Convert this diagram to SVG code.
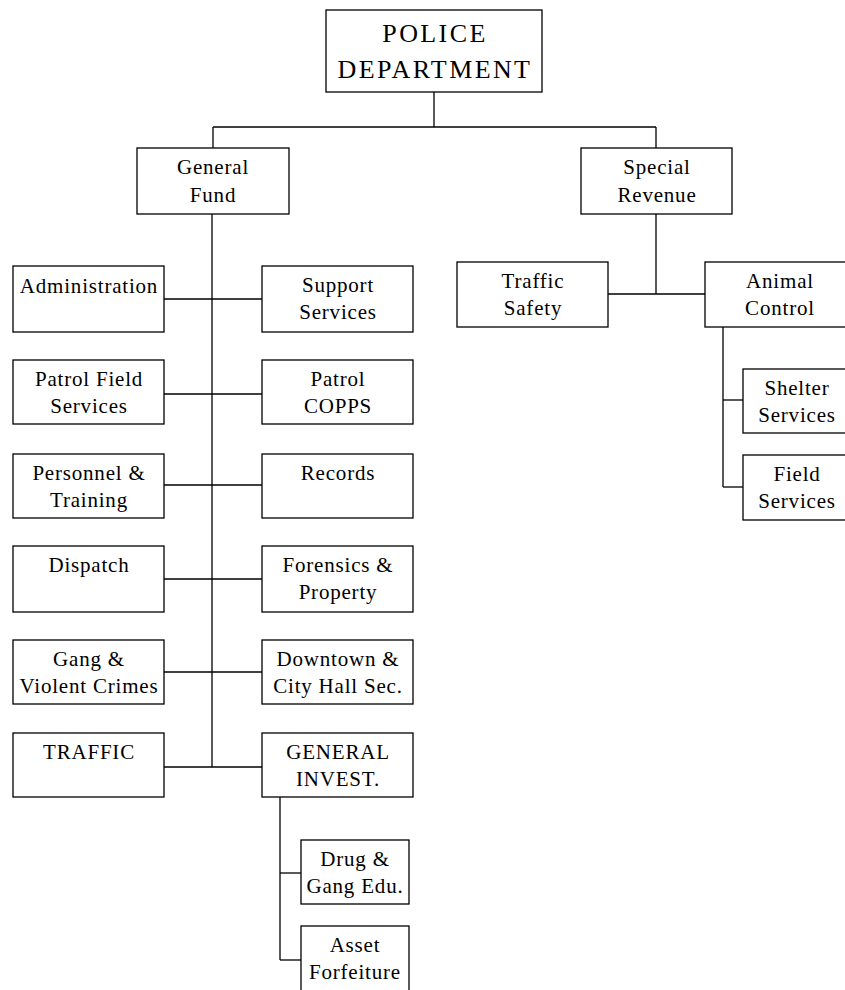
<svg xmlns="http://www.w3.org/2000/svg" width="845" height="990" viewBox="0 0 845 990">
<style>
rect{fill:#fff;stroke:#000;stroke-width:1.3}
text{font-family:"Liberation Serif","Times New Roman",serif;font-size:21px;letter-spacing:0.8px;text-anchor:middle;fill:#000}
.big{font-size:26px;letter-spacing:2.4px}
#connectors line{stroke:#000;stroke-width:1.3}
</style>
<g id="connectors">
<line x1="434" y1="92" x2="434" y2="127"/>
<line x1="213" y1="127" x2="656" y2="127"/>
<line x1="213" y1="127" x2="213" y2="148"/>
<line x1="656" y1="127" x2="656" y2="148"/>
<line x1="212" y1="214" x2="212" y2="767"/>
<line x1="164" y1="299" x2="262" y2="299"/>
<line x1="164" y1="394" x2="262" y2="394"/>
<line x1="164" y1="485" x2="262" y2="485"/>
<line x1="164" y1="579" x2="262" y2="579"/>
<line x1="164" y1="672" x2="262" y2="672"/>
<line x1="164" y1="767" x2="262" y2="767"/>
<line x1="280" y1="797" x2="280" y2="960"/>
<line x1="280" y1="873" x2="301" y2="873"/>
<line x1="280" y1="960" x2="301" y2="960"/>
<line x1="656" y1="214" x2="656" y2="294"/>
<line x1="608" y1="294" x2="705" y2="294"/>
<line x1="723" y1="327" x2="723" y2="487"/>
<line x1="723" y1="400" x2="743" y2="400"/>
<line x1="723" y1="487" x2="743" y2="487"/>
</g>
<g id="police"><rect x="326" y="10" width="216" height="82"/><text class="big" x="435" y="42">POLICE</text><text class="big" x="435" y="78">DEPARTMENT</text></g>
<g id="general-fund"><rect x="137" y="148" width="152" height="66"/><text x="213" y="174">General</text><text x="213" y="202">Fund</text></g>
<g id="special-revenue"><rect x="581" y="148" width="151" height="66"/><text x="657" y="174">Special</text><text x="657" y="202">Revenue</text></g>
<g id="administration"><rect x="13" y="266" width="151" height="66"/><text x="89" y="293">Administration</text></g>
<g id="support-services"><rect x="262" y="266" width="151" height="66"/><text x="338" y="292">Support</text><text x="338" y="319">Services</text></g>
<g id="patrol-field"><rect x="13" y="360" width="151" height="64"/><text x="89" y="386">Patrol Field</text><text x="89" y="413">Services</text></g>
<g id="patrol-copps"><rect x="262" y="360" width="151" height="64"/><text x="338" y="386">Patrol</text><text x="338" y="413">COPPS</text></g>
<g id="personnel"><rect x="13" y="454" width="151" height="64"/><text x="89" y="480">Personnel &amp;</text><text x="89" y="507">Training</text></g>
<g id="records"><rect x="262" y="454" width="151" height="64"/><text x="338" y="480">Records</text></g>
<g id="dispatch"><rect x="13" y="546" width="151" height="66"/><text x="89" y="572">Dispatch</text></g>
<g id="forensics"><rect x="262" y="546" width="151" height="66"/><text x="338" y="572">Forensics &amp;</text><text x="338" y="599">Property</text></g>
<g id="gang"><rect x="13" y="640" width="151" height="64"/><text x="89" y="666">Gang &amp;</text><text x="89" y="693">Violent Crimes</text></g>
<g id="downtown"><rect x="262" y="640" width="151" height="64"/><text x="338" y="666">Downtown &amp;</text><text x="338" y="693">City Hall Sec.</text></g>
<g id="traffic"><rect x="13" y="733" width="151" height="64"/><text x="89" y="759">TRAFFIC</text></g>
<g id="general-invest"><rect x="262" y="733" width="151" height="64"/><text x="338" y="759">GENERAL</text><text x="338" y="786">INVEST.</text></g>
<g id="drug"><rect x="301" y="840" width="108" height="64"/><text x="355" y="866">Drug &amp;</text><text x="355" y="893">Gang Edu.</text></g>
<g id="asset"><rect x="301" y="926" width="108" height="70"/><text x="355" y="952">Asset</text><text x="355" y="979">Forfeiture</text></g>
<g id="traffic-safety"><rect x="457" y="262" width="151" height="65"/><text x="533" y="288">Traffic</text><text x="533" y="315">Safety</text></g>
<g id="animal-control"><rect x="705" y="262" width="150" height="65"/><text x="780" y="288">Animal</text><text x="780" y="315">Control</text></g>
<g id="shelter"><rect x="743" y="369" width="108" height="64"/><text x="797" y="395">Shelter</text><text x="797" y="422">Services</text></g>
<g id="field-services"><rect x="743" y="455" width="108" height="65"/><text x="797" y="481">Field</text><text x="797" y="508">Services</text></g>
</svg>
